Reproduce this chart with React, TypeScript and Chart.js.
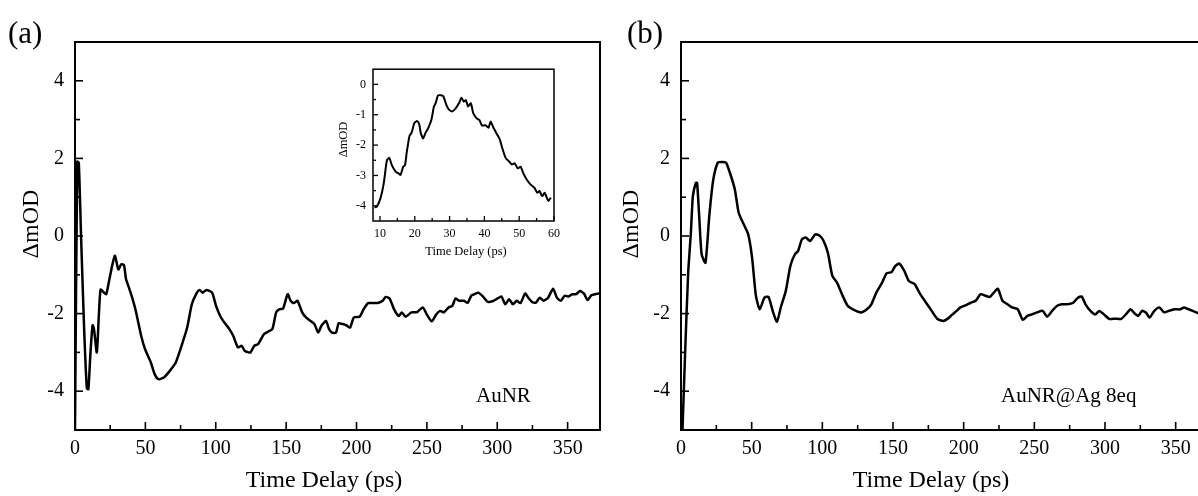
import React, { useEffect, useRef } from "react";
import { Chart, registerables } from "chart.js";
Chart.register(...registerables);

const FONT = '"Liberation Serif", "Times New Roman", Times, serif';

// ---------- Panel (a): AuNR ----------
const A_T = [0, 1.6, 2.7, 4.3, 6.5, 8.4, 9.5, 11.0, 12.5, 13.5, 15.5, 17.0, 18.2, 20.4, 22.2, 24.5, 26.5, 28.4, 30.8, 32.9, 34.8, 36.2, 38.5, 40.3, 43.0, 47.0, 49.8, 53.9, 56.6, 59.3, 63.4, 67.5, 71.6, 75.7, 79.7, 83.0, 86.6, 88.5, 90.6, 93.4, 97.4, 100.2, 103.7, 107.0, 109.7, 112.4, 115.7, 118.4, 120.6, 123.3, 124.7, 127.4, 130.0, 134.2, 136.9, 140.2, 142.9, 145.1, 147.8, 151.1, 153.2, 155.4, 158.1, 161.4, 164.1, 167.4, 170.1, 172.8, 175.0, 178.3, 180.5, 182.6, 185.4, 187.3, 190.0, 192.7, 195.4, 198.1, 202.2, 205.0, 208.2, 211.8, 215.8, 218.6, 220.7, 223.5, 226.7, 230.0, 232.2, 234.9, 239.0, 243.0, 247.1, 249.9, 253.4, 256.7, 259.4, 262.1, 265.4, 268.1, 270.3, 273.0, 276.3, 279.0, 281.7, 283.9, 286.6, 289.9, 293.4, 297.5, 300.2, 303.0, 305.7, 308.4, 311.1, 313.8, 316.5, 319.8, 322.0, 324.7, 327.4, 330.2, 332.9, 336.1, 339.7, 342.4, 345.1, 347.9, 350.6, 353.3, 356.0, 358.8, 361.5, 364.2, 366.9, 369.7, 373.0];
const A_V = [-5.0, 1.92, 1.88, 0.0, -2.4, -3.92, -3.95, -3.0, -2.3, -2.4, -3.0, -2.0, -1.38, -1.45, -1.5, -1.1, -0.75, -0.51, -0.86, -0.73, -0.75, -1.1, -1.35, -1.55, -1.9, -2.57, -2.92, -3.26, -3.56, -3.69, -3.64, -3.47, -3.26, -2.83, -2.36, -1.76, -1.46, -1.39, -1.46, -1.39, -1.46, -1.8, -2.1, -2.27, -2.4, -2.57, -2.87, -2.83, -2.96, -3.0, -3.0, -2.83, -2.79, -2.53, -2.47, -2.4, -1.97, -1.89, -1.87, -1.5, -1.67, -1.73, -1.67, -1.97, -2.1, -2.19, -2.27, -2.49, -2.32, -2.19, -2.4, -2.49, -2.49, -2.25, -2.27, -2.3, -2.36, -2.1, -2.08, -1.89, -1.73, -1.73, -1.72, -1.67, -1.57, -1.61, -1.89, -2.06, -1.97, -2.08, -1.97, -1.96, -1.84, -2.02, -2.2, -2.02, -1.93, -1.97, -1.84, -1.8, -1.61, -1.67, -1.67, -1.72, -1.53, -1.5, -1.46, -1.56, -1.7, -1.67, -1.61, -1.56, -1.76, -1.63, -1.76, -1.67, -1.73, -1.48, -1.59, -1.7, -1.72, -1.59, -1.67, -1.59, -1.36, -1.59, -1.67, -1.54, -1.56, -1.5, -1.5, -1.42, -1.48, -1.65, -1.53, -1.5, -1.48];

// ---------- Panel (b): AuNR@Ag 8eq ----------
const B_T = [0.5, 3.0, 5.1, 7.0, 8.4, 10.5, 11.4, 13.0, 14.6, 17.3, 20.0, 22.7, 26.0, 29.2, 31.9, 34.6, 38.1, 40.8, 44.4, 47.6, 50.3, 53.0, 55.7, 59.0, 61.9, 65.2, 67.9, 70.6, 74.1, 77.4, 80.6, 82.8, 85.5, 88.2, 91.4, 94.9, 97.6, 100.4, 103.9, 107.1, 110.4, 113.9, 117.9, 122.0, 127.4, 131.5, 134.7, 138.2, 142.3, 145.5, 149.0, 151.7, 154.5, 158.0, 161.2, 165.3, 169.3, 173.4, 177.4, 181.5, 185.6, 188.8, 191.5, 195.0, 197.7, 201.8, 205.0, 208.5, 212.0, 215.3, 218.6, 221.3, 224.2, 227.5, 231.0, 234.2, 238.3, 241.8, 245.1, 248.3, 251.8, 255.9, 259.1, 262.6, 266.2, 269.4, 273.5, 277.5, 280.8, 283.5, 286.2, 289.7, 293.2, 295.9, 299.2, 303.2, 307.3, 311.3, 314.8, 318.1, 320.8, 323.5, 326.2, 328.9, 331.6, 334.9, 338.4, 341.9, 345.1, 349.2, 353.3, 356.0, 360.0, 364.1, 366.2, 370.0, 375.0];
const B_V = [-5.6, -2.92, -0.94, 0.09, 1.03, 1.37, 1.37, 0.43, -0.47, -0.69, 0.51, 1.42, 1.89, 1.91, 1.89, 1.63, 1.2, 0.6, 0.3, 0.04, -0.56, -1.54, -1.89, -1.59, -1.57, -1.97, -2.21, -1.84, -1.42, -0.77, -0.47, -0.39, -0.09, -0.04, -0.13, 0.04, 0.02, -0.09, -0.43, -1.03, -1.2, -1.5, -1.8, -1.9, -1.97, -1.89, -1.76, -1.46, -1.2, -0.96, -0.93, -0.77, -0.71, -0.9, -1.16, -1.24, -1.5, -1.72, -1.93, -2.14, -2.19, -2.13, -2.04, -1.93, -1.84, -1.78, -1.72, -1.67, -1.5, -1.54, -1.57, -1.46, -1.36, -1.67, -1.76, -1.84, -1.89, -2.16, -2.06, -2.02, -1.97, -1.93, -2.08, -1.93, -1.8, -1.76, -1.76, -1.72, -1.59, -1.56, -1.76, -1.93, -2.02, -1.93, -2.02, -2.14, -2.13, -2.14, -2.02, -1.89, -1.99, -2.06, -1.93, -1.97, -2.1, -1.93, -1.84, -1.97, -1.93, -1.89, -1.89, -1.84, -1.9, -1.96, -1.99, -2.0, -1.98];

// ---------- Inset of (a) ----------
const IN_T = [8.4, 9.1, 10.2, 11.1, 12.0, 12.7, 13.4, 14.5, 15.3, 15.9, 16.7, 17.2, 17.7, 18.5, 19.1, 19.9, 20.7, 21.3, 21.7, 22.4, 23.1, 23.9, 24.8, 25.5, 26.0, 26.7, 27.5, 28.2, 29.1, 29.9, 30.8, 31.8, 32.8, 33.4, 34.1, 34.7, 35.3, 36.1, 36.8, 37.7, 38.6, 39.3, 40.4, 41.2, 41.8, 42.6, 43.6, 44.4, 45.2, 46.1, 47.2, 47.9, 48.7, 49.6, 50.4, 51.2, 52.2, 53.3, 54.4, 55.2, 55.8, 56.6, 57.3, 58.0, 58.4, 59.1];
const IN_V = [-4.05, -4.03, -3.73, -3.25, -2.5, -2.42, -2.66, -2.87, -2.93, -2.98, -2.71, -2.66, -2.23, -1.69, -1.59, -1.27, -1.21, -1.32, -1.59, -1.78, -1.59, -1.43, -1.16, -0.73, -0.62, -0.36, -0.36, -0.39, -0.68, -0.84, -0.89, -0.78, -0.6, -0.44, -0.57, -0.52, -0.73, -0.62, -0.95, -1.11, -1.18, -1.35, -1.35, -1.43, -1.22, -1.43, -1.64, -1.8, -2.12, -2.42, -2.55, -2.64, -2.6, -2.77, -2.71, -2.93, -3.14, -3.3, -3.41, -3.57, -3.51, -3.68, -3.57, -3.75, -3.84, -3.73];

// ---------- Ticks ----------
const MAIN_X_TICKS = [0, 50, 100, 150, 200, 250, 300, 350];
const MAIN_X_MINOR = [25, 75, 125, 175, 225, 275, 325, 375];
const MAIN_Y_TICKS = [-4, -2, 0, 2, 4];
const MAIN_Y_MINOR = [-3, -1, 1, 3];
const IN_X_TICKS = [10, 20, 30, 40, 50, 60];
const IN_X_MINOR = [15, 25, 35, 45, 55];
const IN_Y_TICKS = [-4, -3, -2, -1, 0];
const IN_Y_MINOR = [-3.5, -2.5, -1.5, -0.5];

type TextItem = { text: string; x: number; y: number; size: number; align?: CanvasTextAlign; rotate?: boolean };

function decoPlugin(cfg: any) {
  return {
    id: "deco",
    afterDraw(chart: any) {
      const { ctx, chartArea: a, scales } = chart;
      ctx.save();
      ctx.strokeStyle = "#000";
      ctx.lineWidth = cfg.frameWidth;
      ctx.strokeRect(a.left, a.top, a.right - a.left, a.bottom - a.top);
      ctx.lineWidth = cfg.tickWidth;
      const xt = (vals: number[], len: number) =>
        vals.forEach((v) => {
          const p = scales.x.getPixelForValue(v);
          if (p < a.left - 0.5 || p > a.right + 0.5) return;
          ctx.beginPath();
          ctx.moveTo(p, a.bottom);
          ctx.lineTo(p, a.bottom - len);
          ctx.stroke();
        });
      const yt = (vals: number[], len: number) =>
        vals.forEach((v) => {
          const p = scales.y.getPixelForValue(v);
          if (p < a.top - 0.5 || p > a.bottom + 0.5) return;
          ctx.beginPath();
          ctx.moveTo(a.left, p);
          ctx.lineTo(a.left + len, p);
          ctx.stroke();
        });
      xt(cfg.xMajor, cfg.majorLen);
      xt(cfg.xMinor, cfg.minorLen);
      yt(cfg.yMajor, cfg.majorLen);
      yt(cfg.yMinor, cfg.minorLen);
      ctx.fillStyle = "#000";
      (cfg.texts as TextItem[]).forEach((t) => {
        ctx.save();
        ctx.font = `${t.size}px ${FONT}`;
        ctx.textBaseline = "alphabetic";
        ctx.textAlign = t.align || "left";
        ctx.translate(t.x, t.y);
        if (t.rotate) ctx.rotate(-Math.PI / 2);
        ctx.fillText(t.text, 0, 0);
        ctx.restore();
      });
      ctx.restore();
    },
  };
}

function makeChart(canvas: HTMLCanvasElement, s: any) {
  const pts = s.t.map((t: number, i: number) => ({ x: t, y: s.v[i] }));
  return new Chart(canvas, {
    type: "line",
    data: {
      datasets: [
        {
          data: pts,
          borderColor: "#000",
          borderWidth: s.lineWidth,
          pointRadius: 0,
          tension: 0.2,
          fill: false,
        },
      ],
    },
    options: {
      responsive: false,
      animation: false,
      events: [],
      layout: { padding: s.padding },
      plugins: { legend: { display: false }, tooltip: { enabled: false }, title: { display: false } },
      scales: {
        x: {
          type: "linear",
          min: s.xMin,
          max: s.xMax,
          grid: { display: false, drawTicks: false },
          border: { display: false },
          ticks: { autoSkip: false, maxRotation: 0, padding: s.xPad, color: "#000", font: { family: FONT, size: s.tickSize } },
          afterBuildTicks: (sc: any) => {
            sc.ticks = s.xTicks.map((v: number) => ({ value: v }));
          },
          afterFit: (sc: any) => {
            sc.height = s.xAxisHeight;
          },
        },
        y: {
          type: "linear",
          min: s.yMin,
          max: s.yMax,
          grid: { display: false, drawTicks: false },
          border: { display: false },
          ticks: { autoSkip: false, padding: s.yPad, color: "#000", font: { family: FONT, size: s.tickSize } },
          afterBuildTicks: (sc: any) => {
            sc.ticks = s.yTicks.map((v: number) => ({ value: v }));
          },
          afterFit: (sc: any) => {
            sc.width = s.yAxisWidth;
          },
        },
      },
    } as any,
    plugins: [decoPlugin(s.deco)],
  });
}

export default function App() {
  const aRef = useRef<HTMLCanvasElement>(null);
  const bRef = useRef<HTMLCanvasElement>(null);
  const iRef = useRef<HTMLCanvasElement>(null);

  useEffect(() => {
    const charts: Chart[] = [];
    charts.push(
      makeChart(aRef.current!, {
        t: A_T, v: A_V, lineWidth: 2.5,
        xMin: 0, xMax: 373, yMin: -5, yMax: 5,
        xTicks: MAIN_X_TICKS, yTicks: MAIN_Y_TICKS,
        padding: { top: 42, right: 10, bottom: 0, left: 0 },
        yAxisWidth: 75, xAxisHeight: 66, xPad: 7, yPad: 11, tickSize: 20,
        deco: {
          frameWidth: 2, tickWidth: 1.6, majorLen: 8, minorLen: 5,
          xMajor: MAIN_X_TICKS, xMinor: MAIN_X_MINOR, yMajor: MAIN_Y_TICKS, yMinor: MAIN_Y_MINOR,
          texts: [
            { text: "(a)", x: 8, y: 43, size: 31 },
            { text: "ΔmOD", x: 37.5, y: 224, size: 24, align: "center", rotate: true },
            { text: "Time Delay (ps)", x: 324, y: 487, size: 24, align: "center" },
            { text: "AuNR", x: 476, y: 402, size: 21 },
          ],
        },
      })
    );
    charts.push(
      makeChart(bRef.current!, {
        t: B_T, v: B_V, lineWidth: 2.5,
        xMin: 0, xMax: 375, yMin: -5, yMax: 5,
        xTicks: MAIN_X_TICKS, yTicks: MAIN_Y_TICKS,
        padding: { top: 42, right: 9, bottom: 0, left: 0 },
        yAxisWidth: 71, xAxisHeight: 66, xPad: 7, yPad: 11, tickSize: 20,
        deco: {
          frameWidth: 2, tickWidth: 1.6, majorLen: 8, minorLen: 5,
          xMajor: MAIN_X_TICKS, xMinor: MAIN_X_MINOR, yMajor: MAIN_Y_TICKS, yMinor: MAIN_Y_MINOR,
          texts: [
            { text: "(b)", x: 17, y: 43, size: 31 },
            { text: "ΔmOD", x: 27.5, y: 224, size: 24, align: "center", rotate: true },
            { text: "Time Delay (ps)", x: 321, y: 487, size: 24, align: "center" },
            { text: "AuNR@Ag 8eq", x: 391, y: 402, size: 21 },
          ],
        },
      })
    );
    charts.push(
      makeChart(iRef.current!, {
        t: IN_T, v: IN_V, lineWidth: 2,
        xMin: 8, xMax: 60, yMin: -4.5, yMax: 0.5,
        xTicks: IN_X_TICKS, yTicks: IN_Y_TICKS,
        padding: { top: 10, right: 8, bottom: 0, left: 0 },
        yAxisWidth: 43, xAxisHeight: 49, xPad: 6, yPad: 7, tickSize: 12,
        deco: {
          frameWidth: 1.5, tickWidth: 1.3, majorLen: 5, minorLen: 3,
          xMajor: IN_X_TICKS, xMinor: IN_X_MINOR, yMajor: IN_Y_TICKS, yMinor: IN_Y_MINOR,
          texts: [
            { text: "ΔmOD", x: 17, y: 84.5, size: 12.4, align: "center", rotate: true },
            { text: "Time Delay (ps)", x: 136, y: 200, size: 12.5, align: "center" },
          ],
        },
      })
    );
    return () => charts.forEach((c) => c.destroy());
  }, []);

  return (
    <div style={{ position: "absolute", left: 0, top: 0, width: 1198, height: 496, overflow: "hidden", background: "#fff" }}>
      <canvas ref={aRef} width={610} height={496} style={{ position: "absolute", left: 0, top: 0, width: 610, height: 496 }} />
      <canvas ref={bRef} width={610} height={496} style={{ position: "absolute", left: 610, top: 0, width: 610, height: 496 }} />
      <canvas ref={iRef} width={236} height={215} style={{ position: "absolute", left: 330, top: 55, width: 236, height: 215 }} />
    </div>
  );
}
